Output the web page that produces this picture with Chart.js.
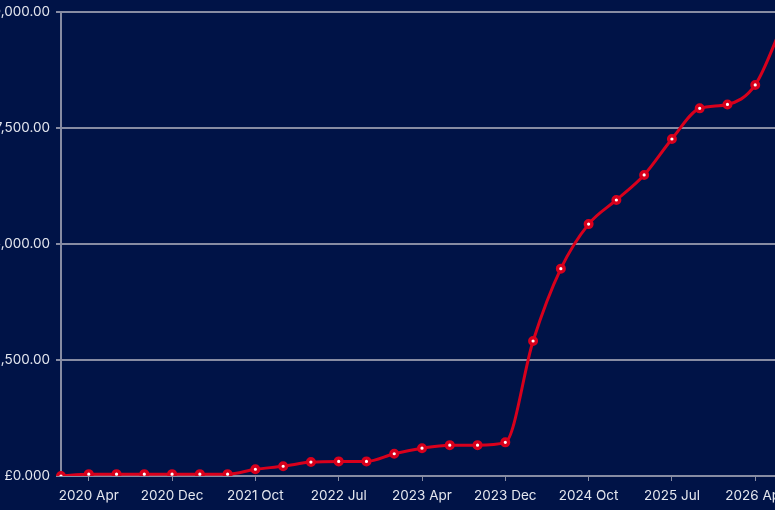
<!DOCTYPE html>
<html>
<head>
<meta charset="utf-8">
<script src="https://cdn.jsdelivr.net/npm/chart.js@4/dist/chart.umd.min.js"></script>
<style>
    html, body {
        margin: 0;
        padding: 0;
        width: 775px;
        height: 510px;
        overflow: hidden;
        background: #001347;
    }
    #wrap {
        position: absolute;
        left: -30px;
        top: -2px;
    }
</style>
</head>
<body>
<div id="wrap"><canvas id="chart" width="823" height="512"></canvas></div>
<script>
    // Quarterly-ish snapshots
    const periods = [
        '2020 Jan', '2020 Apr', '2020 Jul', '2020 Oct', '2020 Dec', '2021 Mar',
        '2021 Jun', '2021 Oct', '2022 Jan', '2022 Apr', '2022 Jul', '2022 Oct',
        '2023 Jan', '2023 Apr', '2023 Jul', '2023 Sep', '2023 Dec', '2024 Mar',
        '2024 Jun', '2024 Oct', '2025 Jan', '2025 Apr', '2025 Jul', '2025 Oct',
        '2026 Jan', '2026 Apr', '2026 Jul'
    ];

    const balance = [
        0, 40, 40, 40, 40, 40,
        40, 145, 210, 300, 315, 315,
        480, 600, 665, 665, 725, 2910,
        4470, 5430, 5950, 6490, 7265, 7925,
        8010, 8430, 9750
    ];

    const yTicks = [0, 2500, 5000, 7500, 10000];
    const yTickLabels = ['£0.000', '£2,500.00', '£5,000.00', '£7,500.00', '£10,000.00'];

    const colors = {
        line: '#d8001c',
        point: '#ffffff',
        grid: '#878ca3',
        text: '#e4e7ef'
    };

    const ctx = document.getElementById('chart').getContext('2d');

    new Chart(ctx, {
        type: 'line',
        data: {
            labels: periods,
            datasets: [{
                label: 'Balance',
                data: balance,
                borderColor: colors.line,
                borderWidth: 3,
                cubicInterpolationMode: 'monotone',
                pointRadius: 3.3,
                pointBorderWidth: 3.4,
                pointBackgroundColor: colors.point,
                pointBorderColor: colors.line,
                fill: false
            }]
        },
        options: {
            responsive: false,
            animation: false,
            layout: { padding: { top: 10, right: 10, left: 0, bottom: 0 } },
            plugins: {
                legend: { display: false },
                tooltip: { enabled: false }
            },
            scales: {
                x: {
                    afterFit: function(scale) { scale.height = 34; },
                    grid: {
                        drawOnChartArea: false,
                        color: colors.grid,
                        tickLength: 5
                    },
                    border: { color: colors.grid, width: 2 },
                    ticks: {
                        autoSkip: false,
                        maxRotation: 0,
                        padding: 7,
                        color: colors.text,
                        font: { family: 'Inter', size: 13.5 },
                        callback: function(value, index) {
                            // only every third period gets a label
                            return index % 3 === 1 ? periods[index] : null;
                        }
                    }
                },
                y: {
                    min: 0,
                    max: 10000,
                    afterFit: function(scale) { scale.width = 91; },
                    afterBuildTicks: function(scale) {
                        scale.ticks = yTicks.map(function(v) { return { value: v }; });
                    },
                    grid: {
                        color: colors.grid,
                        lineWidth: 2,
                        tickLength: 5
                    },
                    border: { color: colors.grid, width: 2 },
                    ticks: {
                        padding: 6,
                        color: colors.text,
                        font: { family: 'Inter', size: 13.5 },
                        callback: function(value) {
                            return yTickLabels[yTicks.indexOf(value)];
                        }
                    }
                }
            }
        }
    });
</script>
</body>
</html>
